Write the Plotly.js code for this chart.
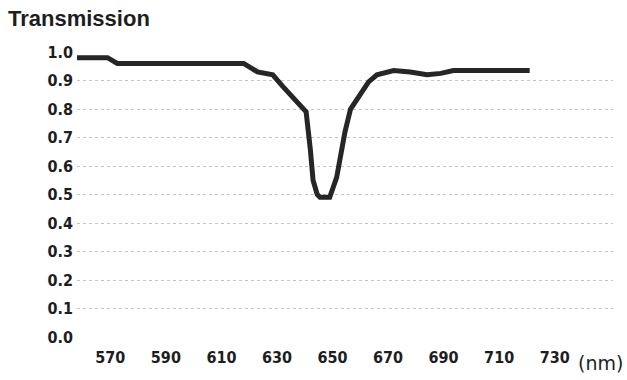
<!DOCTYPE html>
<html>
<head>
<meta charset="utf-8">
<script src="https://cdn.plot.ly/plotly-3.0.1.min.js"></script>
<style>
html, body { margin: 0; padding: 0; background: #ffffff; }
#chart { width: 627px; height: 380px; }
</style>
</head>
<body>
<div id="chart"></div>
<script>
// Wavelength (nm)
var wavelength = [558, 569, 572.5, 618, 623, 628.5, 632, 639.5, 640.5, 642, 643, 644.5, 645.5, 649, 651.5, 654.5, 656.5, 663, 666, 672, 678, 684, 689, 693.5, 721];
// Transmission values
var transmission = [0.98, 0.98, 0.96, 0.96, 0.93, 0.92, 0.88, 0.80, 0.79, 0.66, 0.55, 0.50, 0.49, 0.49, 0.56, 0.72, 0.80, 0.895, 0.92, 0.935, 0.93, 0.92, 0.925, 0.935, 0.935];

var xTicks = [570, 590, 610, 630, 650, 670, 690, 710, 730];
var yTicks = [0.0, 0.1, 0.2, 0.3, 0.4, 0.5, 0.6, 0.7, 0.8, 0.9, 1.0];
var yTickText = ["0.0", "0.1", "0.2", "0.3", "0.4", "0.5", "0.6", "0.7", "0.8", "0.9", "1.0"];

var tickFont = { family: "DejaVu Sans Condensed, DejaVu Sans, sans-serif", size: 16, color: "#1e1e1e", weight: "bold" };

var trace = {
  x: wavelength,
  y: transmission,
  type: "scatter",
  mode: "lines",
  line: { color: "#262626", width: 5, shape: "linear" },
  hoverinfo: "skip",
  showlegend: false
};

var layout = {
  width: 627,
  height: 380,
  margin: { l: 77, r: 14, t: 52, b: 43 },
  paper_bgcolor: "#ffffff",
  plot_bgcolor: "#ffffff",
  title: {
    text: "Transmission",
    x: 8 / 627,
    xanchor: "left",
    xref: "container",
    y: 1 - 18 / 380,
    yanchor: "middle",
    yref: "container",
    font: { family: "Liberation Sans, Arial, sans-serif", size: 22, color: "#1e1e1e", weight: "bold" }
  },
  xaxis: {
    range: [558, 751],
    tickmode: "array",
    tickvals: xTicks,
    ticktext: xTicks.map(String),
    showgrid: false,
    zeroline: false,
    showline: false,
    ticks: "",
    tickfont: tickFont,
    ticklabelstandoff: 9
  },
  yaxis: {
    range: [0, 1.0],
    tickmode: "array",
    tickvals: yTicks,
    ticktext: yTickText,
    showgrid: true,
    gridcolor: "#c4c4c4",
    gridwidth: 1,
    griddash: "dot",
    zeroline: false,
    showline: false,
    ticks: "",
    tickfont: tickFont,
    ticklabelstandoff: 3
  },
  annotations: [{
    text: "(nm)",
    xref: "paper",
    yref: "paper",
    x: (625 - 77) / 536,
    xanchor: "right",
    y: -0.09,
    yanchor: "middle",
    showarrow: false,
    font: { family: "DejaVu Sans, sans-serif", size: 19, color: "#1e1e1e" }
  }]
};

Plotly.newPlot("chart", [trace], layout, { displayModeBar: false, staticPlot: true });
</script>
</body>
</html>
